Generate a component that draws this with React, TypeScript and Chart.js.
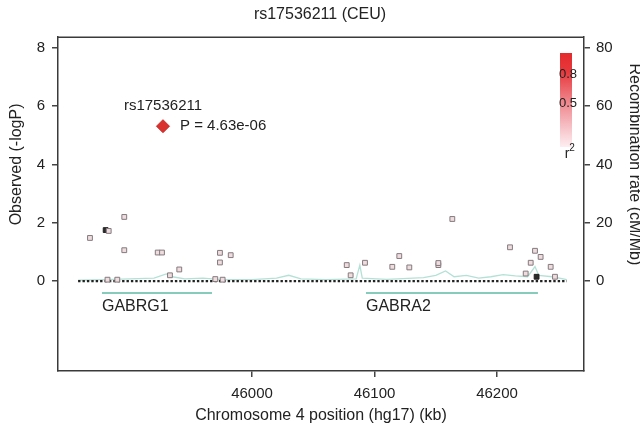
import React, { useEffect, useRef } from 'react';
import Chart from 'chart.js/auto';

const chartTitle = 'rs17536211 (CEU)';
const xTitle = 'Chromosome 4 position (hg17) (kb)';
const yTitle = 'Observed (-logP)';
const y2Title = 'Recombination rate (cM/Mb)';

const xTickValues = [46000, 46100, 46200];
const yTickValues = [0, 2, 4, 6, 8];
const y2TickValues = [0, 20, 40, 60, 80];
const xRange = [45841.6, 46271];
const yRange = [-3.08, 8.36];
const y2Range = [-30.8, 83.6];

// SNPs (position kb, -logP, dark flag)
const snpPositions = [
  45867.7, 45880.5, 45883.0, 45895.7, 45895.7, 45923.0, 45926.5, 45933.0, 45940.6,
  45973.8, 45973.8, 45982.6, 45882.0, 45890.0, 45970.0, 45976.0,
  46077.3, 46080.5, 46092.2, 46114.5, 46120.2, 46128.4, 46152.1, 46152.1, 46163.5,
  46210.6, 46231.0, 46235.6, 46227.5, 46223.4, 46243.8, 46247.3, 46232.3,
];
const snpLogP = [
  1.48, 1.75, 1.72, 2.2, 1.06, 0.98, 0.98, 0.2, 0.4,
  0.97, 0.64, 0.89, 0.05, 0.05, 0.07, 0.05,
  0.55, 0.2, 0.63, 0.49, 0.86, 0.47, 0.55, 0.62, 2.13,
  1.16, 1.04, 0.83, 0.63, 0.26, 0.49, 0.15, 0.15,
];
const snpDark = [
  0, 1, 0, 0, 0, 0, 0, 0, 0,
  0, 0, 0, 0, 0, 0, 0,
  0, 0, 0, 0, 0, 0, 0, 0, 0,
  0, 0, 0, 0, 0, 0, 0, 1,
];

const topSnpName = 'rs17536211';
const topSnpPLabel = 'P = 4.63e-06';
const topSnpPosition = [45927.3];
const topSnpLogP = [5.31];

const recombPositions = [
  45858, 45880, 45900, 45920, 45930, 45935, 45945, 45960, 45975, 46000, 46020, 46030,
  46040, 46060, 46085, 46088, 46090, 46110, 46140, 46150, 46158, 46165, 46175, 46185,
  46195, 46205, 46215, 46225, 46231, 46234, 46245, 46257,
];
const recombRates = [
  0.3, 0.5, 0.8, 1.0, 2.5, 1.5, 0.8, 1.0, 0.5, 0.5, 1.0, 2.0,
  0.8, 0.5, 0.8, 5.5, 1.0, 0.6, 1.2, 2.0, 3.5, 1.5, 2.0, 1.0,
  1.5, 2.2, 1.8, 1.5, 5.0, 2.0, 1.5, 0.5,
];

const baselinePositions = [45858, 46257];
const baselineValues = [0, 0];

const geneNames = ['GABRG1', 'GABRA2'];
const geneStarts = [45877.5, 46093.0];
const geneEnds = [45967.3, 46233.4];
const geneRow = -0.41;

const legendLabels = ['0.8', '0.5'];
const legendValues = [0.8, 0.5];

const FONT = "'Liberation Sans', Arial, Helvetica, sans-serif";
const TEXT = '#222';

export default function App() {
  const ref = useRef<HTMLCanvasElement | null>(null);

  useEffect(() => {
    if (!ref.current) return;

    const snpData = snpPositions.map((x, i) => ({ x, y: snpLogP[i] }));
    const recombData = recombPositions.map((x, i) => ({ x, y: recombRates[i] }));
    const baselineData = baselinePositions.map((x, i) => ({ x, y: baselineValues[i] }));
    const geneDatasets = geneNames.map((name, i) => ({
      label: name,
      data: [
        { x: geneStarts[i], y: geneRow },
        { x: geneEnds[i], y: geneRow },
      ],
      showLine: true,
      borderColor: '#86cbbb',
      borderWidth: 2,
      pointRadius: 0,
      yAxisID: 'y',
      order: 5,
    }));

    const overlay = {
      id: 'overlay',
      afterDatasetsDraw(chart: any) {
        const { ctx, chartArea, scales } = chart;
        const xs = scales.x;
        const ys = scales.y;
        ctx.save();
        // top frame line
        ctx.strokeStyle = '#3a3a3a';
        ctx.lineWidth = 1.5;
        ctx.beginPath();
        ctx.moveTo(chartArea.left, chartArea.top);
        ctx.lineTo(chartArea.right, chartArea.top);
        ctx.stroke();

        // y axis titles, centred on the tick range
        const yMid = (ys.getPixelForValue(yTickValues[0]) + ys.getPixelForValue(yTickValues[yTickValues.length - 1])) / 2;
        ctx.fillStyle = TEXT;
        ctx.font = `16px ${FONT}`;
        ctx.textAlign = 'center';
        ctx.textBaseline = 'middle';
        ctx.save();
        ctx.translate(17, yMid);
        ctx.rotate(-Math.PI / 2);
        ctx.fillText(yTitle, 0, 0);
        ctx.restore();
        ctx.save();
        ctx.translate(634, yMid);
        ctx.rotate(Math.PI / 2);
        ctx.fillText(y2Title, 0, 0);
        ctx.restore();

        // top SNP annotation
        const px = xs.getPixelForValue(topSnpPosition[0]);
        const py = ys.getPixelForValue(topSnpLogP[0]);
        ctx.font = `15px ${FONT}`;
        ctx.textBaseline = 'middle';
        ctx.textAlign = 'center';
        ctx.fillText(topSnpName, px, py - 20);
        ctx.textAlign = 'left';
        ctx.fillText(topSnpPLabel, px + 17, py);

        // gene names
        ctx.font = `16px ${FONT}`;
        geneNames.forEach((name, i) => {
          const gx = xs.getPixelForValue(geneStarts[i]);
          const gy = ys.getPixelForValue(geneRow);
          ctx.fillText(name, gx, gy + 13);
        });

        // r2 legend
        const bx = 560, bw = 12, by = 53, bh = 94;
        const g = ctx.createLinearGradient(0, by, 0, by + bh);
        g.addColorStop(0, '#e42a2c');
        g.addColorStop(0.2, '#e7393d');
        g.addColorStop(0.5, '#ee8288');
        g.addColorStop(0.8, '#f6c4c9');
        g.addColorStop(1, '#fdeef1');
        ctx.fillStyle = g;
        ctx.fillRect(bx, by, bw, bh);
        ctx.fillStyle = TEXT;
        ctx.font = `13px ${FONT}`;
        ctx.textAlign = 'center';
        legendValues.forEach((v, i) => {
          ctx.fillText(legendLabels[i], bx + bw / 2 + 2, by + bh * (1 - v) + 3);
        });
        ctx.font = `14px ${FONT}`;
        ctx.fillText('r', bx + bw / 2 + 1, by + bh + 7);
        ctx.font = `10px ${FONT}`;
        ctx.fillText('2', bx + bw / 2 + 6, by + bh + 1);
        ctx.restore();
      },
    };

    const chart = new Chart(ref.current, {
      type: 'scatter',
      data: {
        datasets: [
          {
            label: 'top',
            data: [{ x: topSnpPosition[0], y: topSnpLogP[0] }],
            pointStyle: 'rectRot',
            pointRadius: 6.5,
            backgroundColor: '#d8312e',
            borderColor: '#c82a28',
            borderWidth: 1,
            yAxisID: 'y',
            order: 0,
          },
          {
            label: 'snps',
            data: snpData,
            pointStyle: 'rect',
            pointRadius: 3.4,
            backgroundColor: snpDark.map((d) => (d ? '#2a2a2a' : '#eedcdf')),
            borderColor: snpDark.map((d) => (d ? '#222' : '#857a7e')),
            borderWidth: 1,
            yAxisID: 'y',
            order: 1,
          },
          {
            label: 'baseline',
            data: baselineData,
            showLine: true,
            borderColor: '#222',
            borderWidth: 2.4,
            borderDash: [2.4, 2],
            pointRadius: 0,
            yAxisID: 'y',
            order: 3,
          },
          {
            label: 'recomb',
            data: recombData,
            showLine: true,
            borderColor: '#b4e1d6',
            borderWidth: 1.3,
            pointRadius: 0,
            yAxisID: 'y2',
            order: 4,
          },
          ...geneDatasets,
        ],
      },
      options: {
        animation: false,
        responsive: false,
        maintainAspectRatio: false,
        devicePixelRatio: 1,
        layout: { padding: 0 },
        plugins: {
          legend: { display: false },
          tooltip: { enabled: false },
          title: {
            display: true,
            text: chartTitle,
            color: TEXT,
            font: { family: FONT, size: 16, weight: 'normal' },
            padding: { top: 5, bottom: 13 },
          },
        },
        scales: {
          x: {
            type: 'linear',
            min: xRange[0],
            max: xRange[1],
            afterBuildTicks: (s: any) => {
              s.ticks = xTickValues.map((v) => ({ value: v }));
            },
            afterFit: (s: any) => {
              s.height = 56;
            },
            ticks: { color: TEXT, font: { family: FONT, size: 15 }, padding: 8, callback: (v: any) => String(v) },
            grid: { drawOnChartArea: false, drawTicks: true, tickLength: 6, color: '#444', lineWidth: 1.5 },
            border: { display: true, color: '#3a3a3a', width: 1.5 },
            title: {
              display: true,
              text: xTitle,
              color: TEXT,
              font: { family: FONT, size: 16 },
              padding: { top: 0, bottom: 2 },
            },
          },
          y: {
            type: 'linear',
            position: 'left',
            min: yRange[0],
            max: yRange[1],
            afterBuildTicks: (s: any) => {
              s.ticks = yTickValues.map((v) => ({ value: v }));
            },
            afterFit: (s: any) => {
              s.width = 58;
            },
            ticks: { color: TEXT, font: { family: FONT, size: 15 }, padding: 7 },
            grid: { drawOnChartArea: false, drawTicks: true, tickLength: 6, color: '#444', lineWidth: 1.5 },
            border: { display: true, color: '#3a3a3a', width: 1.5 },
            title: { display: false },
          },
          y2: {
            type: 'linear',
            position: 'right',
            min: y2Range[0],
            max: y2Range[1],
            afterBuildTicks: (s: any) => {
              s.ticks = y2TickValues.map((v) => ({ value: v }));
            },
            afterFit: (s: any) => {
              s.width = 56;
            },
            ticks: { color: TEXT, font: { family: FONT, size: 15 }, padding: 6 },
            grid: { drawOnChartArea: false, drawTicks: true, tickLength: 6, color: '#444', lineWidth: 1.5 },
            border: { display: true, color: '#3a3a3a', width: 1.5 },
            title: { display: false },
          },
        },
      },
      plugins: [overlay],
    } as any);

    return () => chart.destroy();
  }, []);

  return (
    <div style={{ position: 'absolute', left: 0, top: 0, width: 640, height: 427, background: '#fff' }}>
      <canvas ref={ref} width={640} height={427} style={{ display: 'block', width: 640, height: 427 }} />
    </div>
  );
}
